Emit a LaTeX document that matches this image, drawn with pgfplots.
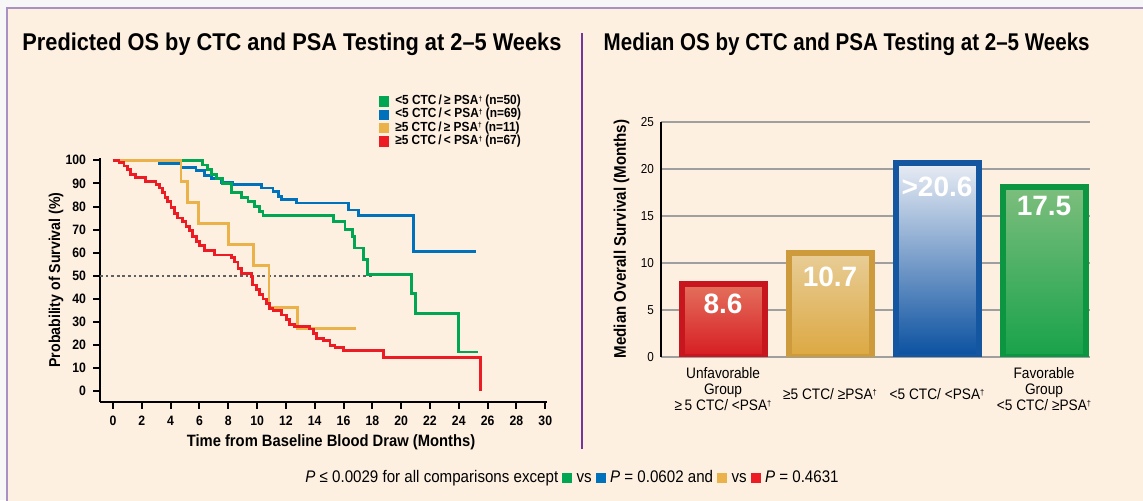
\documentclass[border=0pt]{standalone}
\usepackage{graphicx}
\usepackage{pgfplots}
\pgfplotsset{compat=1.18}
\usepackage{fontspec}
\setmainfont{Liberation Sans}[FakeStretch=0.9]
\newfontfamily\plainfont{Liberation Sans}
\newcommand\dg{\raisebox{0.5ex}{\scalebox{0.55}{†}}}
\definecolor{cgreen}{RGB}{0,166,81}
\definecolor{cblue}{RGB}{0,114,188}
\definecolor{cyellow}{RGB}{234,178,72}
\definecolor{cred}{RGB}{237,28,36}
\definecolor{peach}{RGB}{254,240,225}
\definecolor{lav}{RGB}{170,145,195}
\definecolor{divp}{RGB}{115,55,155}
\pgfplotsset{
  sq/.style={legend image code/.code={\fill[##1] (0pt,-2.6pt) rectangle (5.2pt,2.6pt);}},
  km/.style={const plot mark left, line width=1.4pt, mark=none, forget plot},
}
\begin{document}
\begin{tikzpicture}
\useasboundingbox (0,0) rectangle (571.5pt,250pt);
\fill[gray!6] (0,0) rectangle (571.5pt,250pt);
\filldraw[fill=peach, draw=lav, line width=1pt] (3.5pt,-2pt) rectangle (574pt,246pt);
\draw[divp, line width=1pt] (291pt,25.5pt) -- (291pt,233.5pt);

% titles
\node[anchor=base west, inner sep=0pt, font=\bfseries\fontsize{12.1}{12}\selectfont] at (11pt,224.65pt) {Predicted OS by CTC and PSA Testing at 2–5 Weeks};
\node[anchor=base west, inner sep=0pt, font=\bfseries\fontsize{12.1}{12}\selectfont] at (301.65pt,224.65pt) {\scalebox{0.944}[1]{Median OS by CTC and PSA Testing at 2–5 Weeks}};

% ---------------- Left: Kaplan-Meier ----------------
\begin{axis}[
  at={(50pt,49.15pt)}, anchor=south west,
  scale only axis, width=223.35pt, height=121.85pt,
  xmin=-0.9, xmax=30.1, ymin=-4.5, ymax=101,
  clip=false,
  axis x line*=bottom, axis y line*=left,
  axis line style={line width=1.2pt, black},
  xtick={0,2,...,30}, ytick={0,10,...,100},
  tick align=outside, major tick length=3.5pt,
  tick style={line width=1pt, black},
  /pgf/number format/assume math mode=true,
  ticklabel style={font=\bfseries\fontsize{6.8}{7}\selectfont},
  legend style={at={(0.61,1.275)}, anchor=north west, draw=none, fill=none,
    font=\bfseries\fontsize{6.6}{6.6}\selectfont, row sep=0.6pt,
    nodes={inner sep=0pt, text height=4.6pt, text depth=1.5pt}},
  legend cell align=left,
  /tikz/every odd column/.append style={column sep=3pt},
]
\addlegendimage{sq, fill=cgreen, draw=none}
\addlegendentry{<5 CTC\,/\,≥ PSA\dg\ (n=50)}
\addlegendimage{sq, fill=cblue, draw=none}
\addlegendentry{<5 CTC\,/\,< PSA\dg\ (n=69)}
\addlegendimage{sq, fill=cyellow, draw=none}
\addlegendentry{≥5 CTC\,/\,≥ PSA\dg\ (n=11)}
\addlegendimage{sq, fill=cred, draw=none}
\addlegendentry{≥5 CTC\,/\,< PSA\dg\ (n=67)}

\addplot[forget plot, gray!75!black, line width=0.8pt, dash pattern=on 1.4pt off 1.4pt] coordinates {(-0.9,50) (18.1,50)};

% blue
\addplot[km, cblue] coordinates {
(0,100) (3.2,98.5) (4.72,97) (5.76,95.5) (6.35,93.5) (6.81,92) (7.5,90.5) (8.32,89.5)
(10.3,88) (11.1,86.5) (11.46,84.5) (11.69,83) (12.74,81.5) (16.35,78.5) (17.04,76)
(20.87,60.5) (25.17,60.5)};
% green
\addplot[km, cgreen] coordinates {
(0,100) (6.23,98) (6.58,96) (6.81,94) (7.16,92) (7.62,90) (8.2,86) (8.9,84) (9.37,82)
(9.83,80) (10.18,78) (10.41,76) (15.3,73.5) (16.1,70) (16.6,67) (16.74,62) (17.4,57)
(17.66,50.5) (20.69,42.3) (21.0,33.8) (23.97,17) (25.34,17)};
% yellow
\addplot[km, cyellow] coordinates {
(0,100) (4.72,90.9) (5.18,81.8) (5.95,72.7) (8.04,63.6) (9.76,54.5) (10.83,36.4)
(12.78,27.3) (16.87,27.3)};
% red
\addplot[km, cred] coordinates {
(0,100) (0.42,99) (0.77,97.5) (1.0,96) (1.23,94) (1.58,92.5) (2.28,91) (2.98,89.5)
(3.21,88) (3.44,86) (3.61,84) (3.79,82) (4.03,79.5) (4.26,77) (4.49,75) (4.84,73.5)
(5.07,71.5) (5.30,69.5) (5.54,67) (5.77,65) (6.00,63) (6.35,61) (7.05,59) (8.21,58)
(8.44,56) (8.67,53) (8.91,51) (9.61,49.5) (9.71,46) (9.95,44) (10.18,42) (10.41,40)
(10.64,38) (10.88,36) (11.11,35) (11.69,33) (12.04,31) (12.27,29) (12.62,28)
(13.66,27) (13.90,25) (14.13,23) (14.59,22) (15.06,20) (15.41,19) (15.99,17.5)
(18.78,14.5) (25.52,0)};
\end{axis}

\node[rotate=90, font=\bfseries\fontsize{7.85}{7.85}\selectfont] at (28pt,110pt) {Probability of Survival (\%)};
\node[anchor=base, inner sep=0pt, font=\bfseries\fontsize{8.2}{8.2}\selectfont] at (165.5pt,27pt) {Time from Baseline Blood Draw (Months)};

% ---------------- Right: bar chart ----------------
\begin{axis}[
  at={(330.5pt,71.65pt)}, anchor=south west,
  scale only axis, width=214.5pt, height=117.5pt,
  xmin=-0.58, xmax=3.43, ymin=0, ymax=25,
  axis x line*=bottom, axis y line*=left,
  x axis line style={draw=none},
  y axis line style={line width=0.9pt, black},
  ymajorgrids, grid style={line width=0.8pt, gray!75},
  ytick={0,5,...,25}, xtick={0,1,2,3},
  major tick length=0pt,
  /pgf/number format/assume math mode=true,
  yticklabel style={font=\fontsize{6.5}{7}\selectfont},
  xticklabel style={font=\fontsize{7.6}{8}\selectfont, align=center, yshift=-2pt},
  xticklabels={Unfavorable\\Group\\≥\,5 CTC/ <PSA\dg,
               \mbox{}\\\mbox{}\\≥5 CTC/ ≥PSA\dg,
               \mbox{}\\\mbox{}\\<5 CTC/ <PSA\dg,
               Favorable\\Group\\<5 CTC/ ≥PSA\dg},
]
\addplot[ybar, bar width=41.5pt, bar shift=0pt, line width=3pt,
  draw={rgb,255:red,200;green,22;blue,30},
  top color={rgb,255:red,228;green,112;blue,92}, bottom color={rgb,255:red,214;green,28;blue,34}]
  coordinates {(0,7.7)};
\addplot[ybar, bar width=41.5pt, bar shift=0pt, line width=3pt,
  draw={rgb,255:red,205;green,155;blue,60},
  top color={rgb,255:red,232;green,205;blue,150}, bottom color={rgb,255:red,220;green,168;blue,66}]
  coordinates {(1,11.0)};
\addplot[ybar, bar width=41.5pt, bar shift=0pt, line width=3pt,
  draw={rgb,255:red,20;green,86;blue,160},
  top color={rgb,255:red,232;green,236;blue,244}, middle color={rgb,255:red,60;green,122;blue,192},
  bottom color={rgb,255:red,10;green,80;blue,160}]
  coordinates {(2,20.6)};
\addplot[ybar, bar width=41.5pt, bar shift=0pt, line width=3pt,
  draw={rgb,255:red,12;green,150;blue,66},
  top color={rgb,255:red,125;green,190;blue,125}, bottom color={rgb,255:red,24;green,162;blue,74}]
  coordinates {(3,18.1)};
\node[white, font=\plainfont\bfseries\fontsize{14}{14}\selectfont] at (axis cs:0,5.6) {8.6};
\node[white, font=\plainfont\bfseries\fontsize{14}{14}\selectfont] at (axis cs:1,8.5) {10.7};
\node[white, font=\plainfont\bfseries\fontsize{14}{14}\selectfont] at (axis cs:2,18.1) {>20.6};
\node[white, font=\plainfont\bfseries\fontsize{14}{14}\selectfont] at (axis cs:3,16.0) {17.5};
\end{axis}

\node[rotate=90, font=\bfseries\fontsize{8.4}{8.4}\selectfont] at (310.75pt,130.5pt) {Median Overall Survival (Months)};

% footnote
\node[anchor=base, inner sep=0pt, font=\fontsize{8.4}{8.4}\selectfont] at (286pt,8.65pt)
 {\textit{P} ≤ 0.0029 for all comparisons except \textcolor{cgreen}{\rule{5pt}{5pt}} vs \textcolor{cblue}{\rule{5pt}{5pt}} \textit{P} = 0.0602 and \textcolor{cyellow}{\rule{5pt}{5pt}} vs \textcolor{cred}{\rule{5pt}{5pt}} \textit{P} = 0.4631};
\end{tikzpicture}
\end{document}
